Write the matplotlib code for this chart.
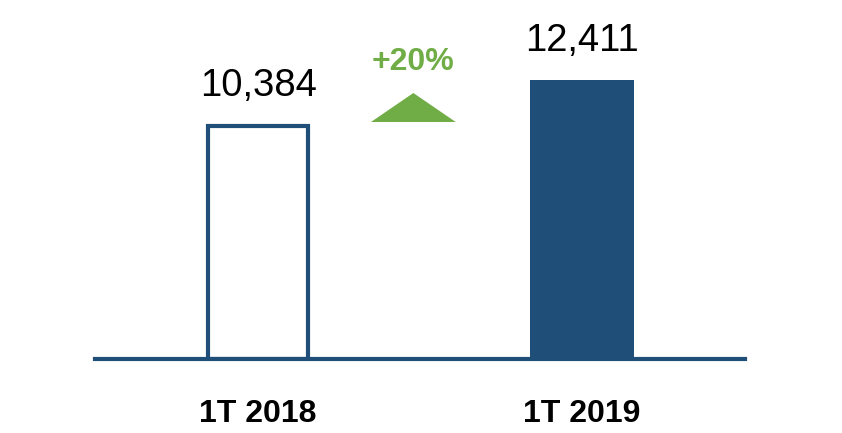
import matplotlib
matplotlib.use("Agg")
import matplotlib.pyplot as plt
from matplotlib.patches import Polygon

categories = ["1T 2018", "1T 2019"]
values = [10384, 12411]
value_labels = ["10,384", "12,411"]
change_label = "+20%"

BLUE = "#1F4E79"
GREEN = "#70AD47"

W, H = 842, 433
fig = plt.figure(figsize=(W / 100, H / 100), dpi=100)
plt.rcParams['font.family'] = ['Liberation Sans', 'DejaVu Sans']

ax = fig.add_axes([95 / W, (H - 359) / H, 650 / W, 359 / H])
ax.set_xlim(-0.504, 1.505)
ax.set_ylim(0, values[1] * 359 / 279)
ax.axis('off')

width = 0.31
x = [0, 1]
ax.bar(x[0], values[0], width=width, facecolor='white', edgecolor=BLUE, linewidth=3.0, zorder=2)
ax.bar(x[1], values[1], width=0.322, facecolor=BLUE, edgecolor=BLUE, linewidth=0, zorder=2)

ax.axhline(0, color=BLUE, linewidth=3.0, zorder=3, clip_on=False)

for xi, v, lab in zip(x, values, value_labels):
    ax.annotate(lab, (xi, v), xytext=(0, 21), textcoords='offset points',
                ha='center', va='baseline', fontsize=27.5, color='black')

for xi, c in zip(x, categories):
    ax.annotate(c, (xi, 0), xytext=(0, -45), textcoords='offset points',
                ha='center', va='baseline', fontsize=23, fontweight='bold', color='black',
                annotation_clip=False)

yscale = values[1] / 279
tri_cx = 0.48
tri_hw = 0.131
base_y = (359 - 122) * yscale
apex_y = (359 - 93) * yscale
ax.add_patch(Polygon([[tri_cx - tri_hw, base_y], [tri_cx + tri_hw, base_y], [tri_cx, apex_y]],
                     closed=True, facecolor=GREEN, edgecolor='none', zorder=2))
ax.text(tri_cx, (359 - 70) * yscale, change_label, ha='center', va='baseline',
        fontsize=23, fontweight='bold', color=GREEN)

fig.savefig("out.png", dpi=100)
